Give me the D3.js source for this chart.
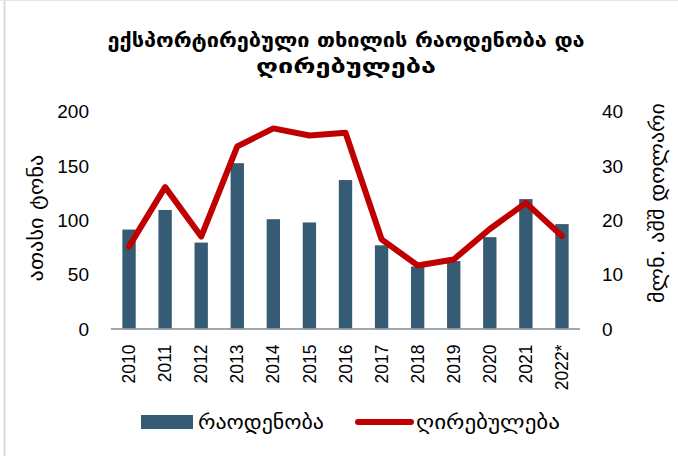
<!DOCTYPE html>
<html>
<head>
<meta charset="utf-8">
<script src="https://cdn.jsdelivr.net/npm/d3@7"></script>
<style>
  body { margin: 0; background: #fff; }
  text { font-family: "DejaVu Sans", "Liberation Sans", sans-serif; fill: #000; }
</style>
</head>
<body>
<svg id="chart" width="678" height="456"></svg>
<script>
// data
var years = ["2010", "2011", "2012", "2013", "2014", "2015", "2016", "2017", "2018", "2019", "2020", "2021", "2022*"];
var quantity = [91, 109, 79, 152, 100.5, 97.5, 136.5, 76.5, 57, 62, 84, 119, 96];   // thousand tonnes
var value = [15.1, 26.0, 16.9, 33.5, 36.8, 35.5, 36.0, 16.4, 11.6, 12.7, 18.3, 23.1, 17.0]; // mln USD
var leftTicks = [0, 50, 100, 150, 200];
var rightTicks = [0, 10, 20, 30, 40];

var titleLines = ["ექსპორტირებული თხილის რაოდენობა და", "ღირებულება"];
var leftTitle = "ათასი ტონა";
var rightTitle = "მლნ. აშშ დოლარი";
var legendNames = ["რაოდენობა", "ღირებულება"];

var barColor = "#365b74";
var lineColor = "#c00000";

var svg = d3.select("#chart");

// faint frame like the original export
svg.append("line").attr("x1", 4.5).attr("x2", 4.5).attr("y1", 0).attr("y2", 456)
    .attr("stroke", "#d9d9d9").attr("stroke-width", 2);
svg.append("line").attr("x1", 0).attr("x2", 678).attr("y1", 0.5).attr("y2", 0.5)
    .attr("stroke", "#e6e6e6");

var plot = { left: 111, right: 580, top: 111, bottom: 328.5 };

var x = d3.scaleBand().domain(years).range([plot.left, plot.right]).paddingInner(0.63).paddingOuter(0.315);
var yL = d3.scaleLinear().domain([0, 200]).range([plot.bottom, plot.top]);
var yR = d3.scaleLinear().domain([0, 40]).range([plot.bottom, plot.top]);

// georgian text is stretched to the widths seen in the original
function fitText(sel, len) {
    sel.attr("textLength", len).attr("lengthAdjust", "spacingAndGlyphs");
}

// title
var titleLens = [477, 180];
svg.append("g").selectAll("text").data(titleLines).enter().append("text")
    .attr("x", 346).attr("y", function(d, i) { return 47 + i * 26; })
    .attr("text-anchor", "middle")
    .style("font-size", "19px").style("font-weight", "bold")
    .text(function(d) { return d; })
    .each(function(d, i) { fitText(d3.select(this), titleLens[i]); });

// bars
svg.append("g").selectAll("rect").data(quantity).enter().append("rect")
    .attr("x", function(d, i) { return x(years[i]); })
    .attr("y", function(d) { return yL(d); })
    .attr("width", x.bandwidth())
    .attr("height", function(d) { return yL(0) - yL(d); })
    .attr("fill", barColor);

// base line
svg.append("line").attr("x1", plot.left).attr("x2", plot.right)
    .attr("y1", plot.bottom + 0.5).attr("y2", plot.bottom + 0.5)
    .attr("stroke", "#7f8a92").attr("stroke-width", 1.5);

// value line
var line = d3.line()
    .x(function(d, i) { return x(years[i]) + x.bandwidth() / 2; })
    .y(function(d) { return yR(d); });
svg.append("path").datum(value)
    .attr("d", line)
    .attr("fill", "none")
    .attr("stroke", lineColor)
    .attr("stroke-width", 6)
    .attr("stroke-linecap", "round")
    .attr("stroke-linejoin", "round");

// axes (labels only, like the original)
var axL = svg.append("g").attr("transform", "translate(" + (plot.left - 22) + ",0)")
    .call(d3.axisLeft(yL).tickValues(leftTicks).tickSize(0).tickPadding(0));
var axR = svg.append("g").attr("transform", "translate(" + (plot.right + 22) + ",0)")
    .call(d3.axisRight(yR).tickValues(rightTicks).tickSize(0).tickPadding(0));
var axX = svg.append("g").attr("transform", "translate(0," + (plot.bottom + 10) + ")")
    .call(d3.axisBottom(x).tickSize(0).tickPadding(0));

[axL, axR, axX].forEach(function(a) {
    a.select(".domain").remove();
    a.selectAll("text").style("font-family", "'Liberation Sans', 'DejaVu Sans', sans-serif");
});
axL.selectAll("text").style("font-size", "19px").attr("dy", "0.35em");
axR.selectAll("text").style("font-size", "19px").attr("dy", "0.35em");
axX.selectAll("text")
    .style("font-size", "17.5px")
    .attr("transform", "rotate(-90)")
    .attr("text-anchor", "end")
    .attr("x", -6)
    .attr("y", 0)
    .attr("dy", "0.35em");

// axis titles
svg.append("text")
    .attr("transform", "translate(43,218) rotate(-90)")
    .attr("text-anchor", "middle")
    .style("font-size", "20px")
    .text(leftTitle)
    .call(fitText, 127);
svg.append("text")
    .attr("transform", "translate(664,203) rotate(-90)")
    .attr("text-anchor", "middle")
    .style("font-size", "20px")
    .text(rightTitle)
    .call(fitText, 200);

// legend
var leg = svg.append("g");
leg.append("rect").attr("x", 141).attr("y", 415).attr("width", 52).attr("height", 14).attr("fill", barColor);
leg.append("text").attr("x", 198).attr("y", 429).style("font-size", "20px").text(legendNames[0]).call(fitText, 126);
leg.append("line").attr("x1", 358).attr("x2", 411).attr("y1", 422).attr("y2", 422)
    .attr("stroke", lineColor).attr("stroke-width", 6).attr("stroke-linecap", "round");
leg.append("text").attr("x", 416).attr("y", 429).style("font-size", "20px").text(legendNames[1]).call(fitText, 144);
</script>
</body>
</html>
